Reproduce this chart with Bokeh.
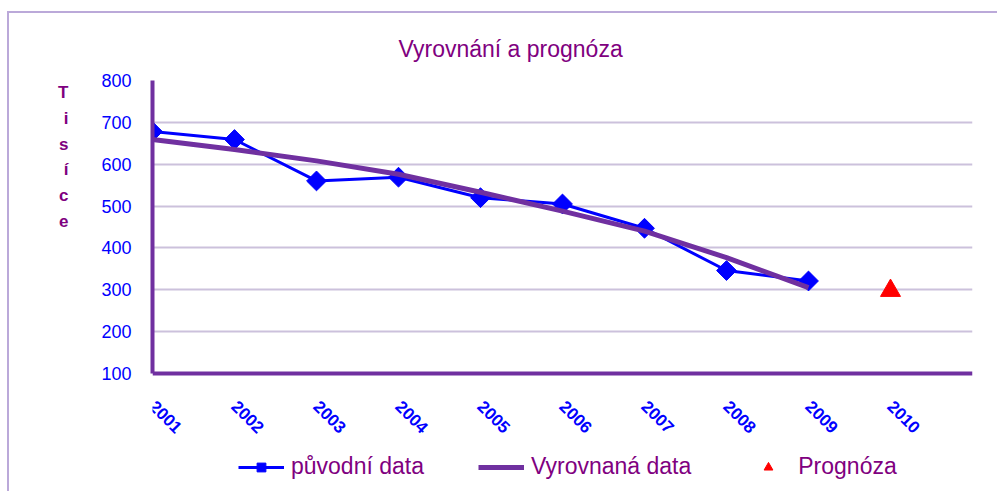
import math
from bokeh.plotting import figure
from bokeh.models import (ColumnDataSource, FixedTicker, Legend, LegendItem, Range1d)
from bokeh.embed import file_html
from bokeh.resources import INLINE

# ---- data ----
years = [2001, 2002, 2003, 2004, 2005, 2006, 2007, 2008, 2009]
original = [678, 659, 560, 569, 520, 505, 447, 346, 321]
smoothed = [659, 635, 608, 576, 533, 488, 440, 377, 305]
forecast_year = [2010]
forecast_value = [298]
tick_years = [2001, 2002, 2003, 2004, 2005, 2006, 2007, 2008, 2009, 2010]
tick_labels = [str(y) for y in tick_years]
y_ticks = [100, 200, 300, 400, 500, 600, 700, 800]
Y_MIN, Y_MAX = 100, 800

FONT = "Liberation Sans"
PURPLE_TXT = "#800080"
PURPLE_LINE = "#7030a0"
BLUE = "#0000ff"
GRID = "#ccc1dc"
BORDER = "#bba9d9"

OX, OY = 9, 13                        # canvas origin on the page
FL, FR, FT = 152 - OX, 972 - OX, 80 - OY
AXIS_B = 373 - OY                      # canvas y of the value axis bottom (100)
FBOT = 491 - OY                        # frame extends below to hold the legend
ppu = (AXIS_B - FT) / (Y_MAX - Y_MIN)
y_start = Y_MIN - (FBOT - AXIS_B) / ppu

p = figure(frame_width=FR - FL, frame_height=FBOT - FT,
           output_backend="svg", toolbar_location=None,
           x_range=Range1d(2001, 2011), y_range=Range1d(y_start, Y_MAX),
           min_border_left=FL, min_border_right=25, min_border_top=FT,
           min_border_bottom=0, title="Vyrovnání a prognóza")
p.styles = {"border-top": f"2px solid {BORDER}", "border-left": f"2px solid {BORDER}",
            "margin-left": "7px", "margin-top": "11px"}
p.outline_line_color = None
p.background_fill_color = "white"
p.border_fill_color = "white"

p.title.text_font = FONT
p.title.text_font_size = "23px"
p.title.text_font_style = "normal"
p.title.text_color = PURPLE_TXT
p.title.align = "left"
p.title.offset = 398 - 152
p.title.standoff = 38

# axes
p.xaxis.fixed_location = Y_MIN
p.xaxis.ticker = FixedTicker(ticks=tick_years)
p.xaxis.major_label_overrides = {y: l for y, l in zip(tick_years, tick_labels)}
p.xaxis.major_label_orientation = -math.pi / 4
p.xaxis.major_label_text_color = BLUE
p.xaxis.major_label_text_font = FONT
p.xaxis.major_label_text_font_style = "bold"
p.xaxis.major_label_text_font_size = "17px"
p.xaxis.major_label_standoff = 24
p.xaxis.axis_line_color = PURPLE_LINE
p.xaxis.axis_line_width = 4
p.xaxis.major_tick_line_color = None
p.xaxis.minor_tick_line_color = None

p.yaxis.bounds = (Y_MIN, Y_MAX)
p.yaxis.ticker = FixedTicker(ticks=y_ticks)
p.yaxis.major_label_text_color = BLUE
p.yaxis.major_label_text_font = FONT
p.yaxis.major_label_text_font_size = "18px"
p.yaxis.major_label_standoff = 15
p.yaxis.axis_line_color = PURPLE_LINE
p.yaxis.axis_line_width = 4
p.yaxis.major_tick_line_color = None
p.yaxis.minor_tick_line_color = None
p.yaxis.axis_label = "T\ni\ns\ní\nc\ne" + "\n" * 10
p.yaxis.axis_label_orientation = "horizontal"
p.yaxis.axis_label_text_font = FONT
p.yaxis.axis_label_text_font_style = "bold"
p.yaxis.axis_label_text_font_size = "17px"
p.yaxis.axis_label_text_color = PURPLE_TXT
p.yaxis.axis_label_text_line_height = 1.357
p.yaxis.axis_label_standoff = 30

p.xgrid.grid_line_color = None
p.ygrid.grid_line_color = GRID
p.ygrid.grid_line_width = 2
p.ygrid.ticker = FixedTicker(ticks=[200, 300, 400, 500, 600, 700, 800])

src_o = ColumnDataSource(dict(x=years, y=original))
src_s = ColumnDataSource(dict(x=years, y=smoothed))
src_f = ColumnDataSource(dict(x=forecast_year, y=forecast_value))

l1 = p.line("x", "y", source=src_o, line_color=BLUE, line_width=3)
m1 = p.scatter("x", "y", source=src_o, marker="square", angle=math.pi / 4,
               size=14, fill_color=BLUE, line_color=BLUE)
l2 = p.line("x", "y", source=src_s, line_color=PURPLE_LINE, line_width=5)
m3 = p.scatter("x", "y", source=src_f, marker="triangle", size=20,
               fill_color="#ff0000", line_color="#ff0000")

legend = Legend(items=[LegendItem(label="původní data", renderers=[l1, m1]),
                       LegendItem(label="Vyrovnaná data", renderers=[l2]),
                       LegendItem(label="Prognóza", renderers=[m3])],
                orientation="horizontal", location=(238 - 152, 11),
                label_text_font=FONT, label_text_font_size="23px",
                label_text_color=PURPLE_TXT, glyph_width=46, glyph_height=22,
                label_standoff=7, spacing=54, padding=0, margin=0,
                border_line_color=None, background_fill_alpha=0)
p.add_layout(legend, "center")

open("out.html", "w").write(file_html(p, INLINE))
